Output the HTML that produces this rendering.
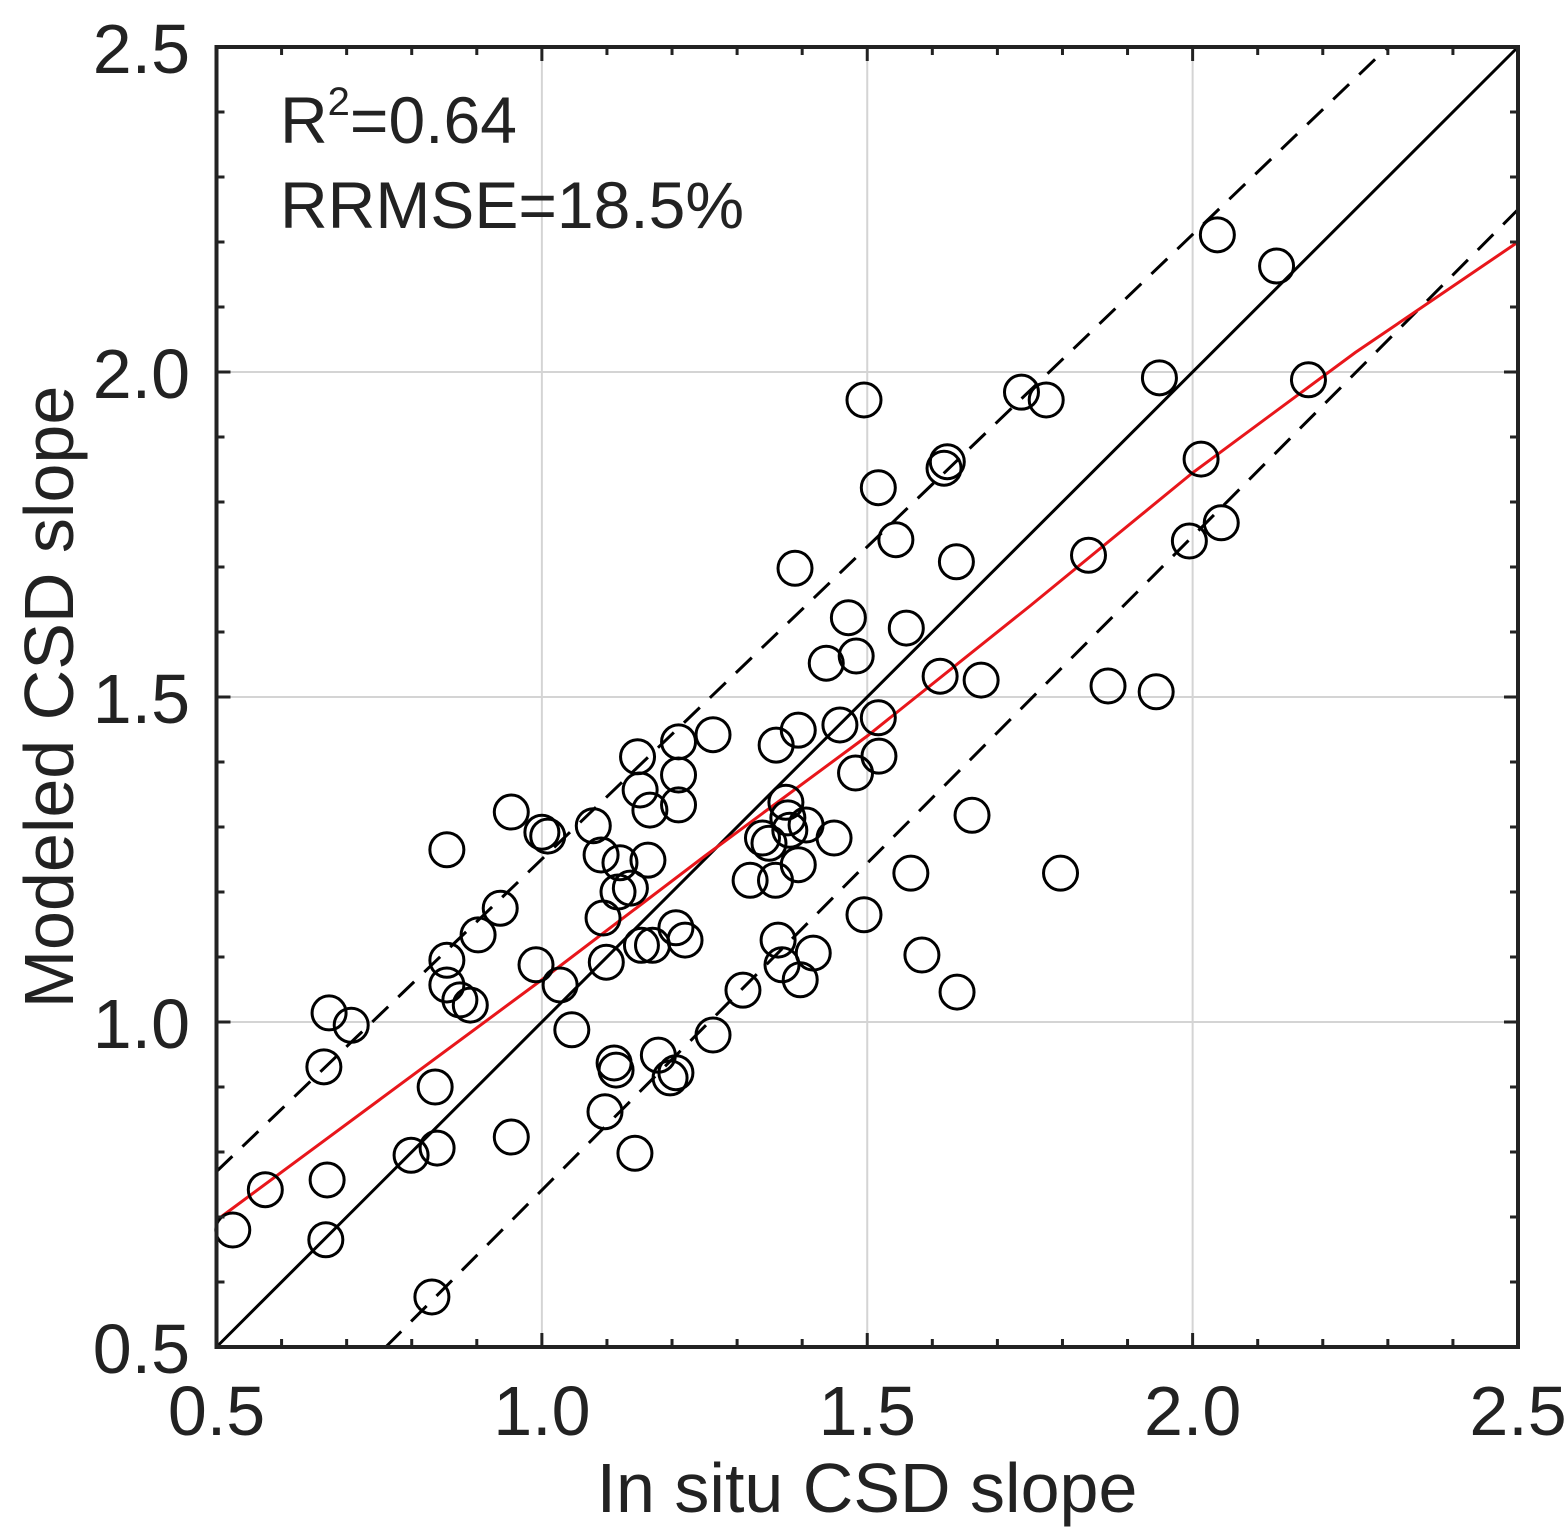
<!DOCTYPE html>
<html><head><meta charset="utf-8"><style>
html,body{margin:0;padding:0;background:#fff}
svg{display:block;font-family:"Liberation Sans",Arial,sans-serif}
text{fill:#222}
</style></head><body>
<svg id="chart" width="1565" height="1538" viewBox="0 0 1565 1538" xmlns="http://www.w3.org/2000/svg">
<g id="grid"></g>
<g id="lines"></g>
<g id="points"></g>
<g id="axes"></g>
<text x="280" y="143" font-size="66">R<tspan dy="-28" font-size="40">2</tspan><tspan dy="28">=0.64</tspan></text>
<text x="280" y="228" font-size="66">RRMSE=18.5%</text>
<text x="867" y="1512" font-size="70" text-anchor="middle">In situ CSD slope</text>
<text transform="translate(73,697) rotate(-90)" font-size="70" text-anchor="middle">Modeled CSD slope</text>
</svg>
<script>
const xTicks=[0.5,1.0,1.5,2.0,2.5];
const yTicks=[0.5,1.0,1.5,2.0,2.5];
const tickLabels=["0.5","1.0","1.5","2.0","2.5"];
const insitu=[0.525,0.575,0.668,0.670,0.665,0.673,0.707,0.799,0.839,0.836,0.831,0.854,0.854,0.854,0.874,0.890,0.902,0.936,0.953,0.953,0.991,1.000,1.009,1.028,1.046,1.079,1.091,1.094,1.099,1.097,1.111,1.114,1.117,1.120,1.136,1.143,1.147,1.151,1.153,1.163,1.166,1.170,1.179,1.197,1.206,1.210,1.210,1.206,1.220,1.210,1.263,1.263,1.309,1.320,1.339,1.349,1.359,1.360,1.363,1.369,1.375,1.378,1.381,1.389,1.394,1.394,1.397,1.406,1.417,1.437,1.449,1.458,1.471,1.483,1.482,1.495,1.495,1.517,1.517,1.518,1.544,1.560,1.567,1.584,1.612,1.618,1.623,1.637,1.638,1.675,1.661,1.737,1.775,1.797,1.840,1.870,1.944,1.949,1.995,2.013,2.044,2.038,2.129,2.178];
const modeled=[0.680,0.742,0.665,0.757,0.931,1.014,0.995,0.795,0.806,0.900,0.577,1.265,1.095,1.057,1.034,1.026,1.134,1.175,1.323,0.823,1.088,1.292,1.286,1.057,0.988,1.302,1.257,1.160,1.092,0.862,0.937,0.926,1.200,1.245,1.206,0.798,1.408,1.357,1.118,1.249,1.326,1.118,0.949,0.914,0.922,1.380,1.334,1.145,1.126,1.431,1.442,0.980,1.049,1.218,1.283,1.275,1.218,1.426,1.126,1.088,1.338,1.314,1.295,1.698,1.242,1.449,1.065,1.303,1.106,1.552,1.283,1.457,1.622,1.563,1.383,1.957,1.165,1.822,1.468,1.409,1.742,1.606,1.229,1.103,1.532,1.852,1.862,1.708,1.046,1.526,1.318,1.969,1.957,1.229,1.718,1.517,1.508,1.991,1.740,1.866,1.768,2.211,2.163,1.988];
const fitX=[0.5,0.75,1.0,1.25,1.5,1.75,2.0,2.25,2.5];
const fitY=[0.695,0.88,1.065,1.255,1.44,1.64,1.845,2.03,2.2];
const upperX=[0.5,2.3];
const upperY=[0.77,2.5];
const lowerX=[0.76,2.5];
const lowerY=[0.5,2.25];
const NS="http://www.w3.org/2000/svg";
const X0=216.5,X1=1518,Y0=1347,Y1=47;
function sx(v){return X0+(v-0.5)/2*(X1-X0);}
function sy(v){return Y0-(v-0.5)/2*(Y0-Y1);}
function mk(tag,attrs,parent){const e=document.createElementNS(NS,tag);for(const k in attrs)e.setAttribute(k,attrs[k]);parent.appendChild(e);return e;}
const grid=document.getElementById('grid'),lines=document.getElementById('lines'),pts=document.getElementById('points'),axes=document.getElementById('axes');
xTicks.forEach((t,i)=>{
  if(i>0&&i<xTicks.length-1){const g=mk('line',{x1:sx(t),x2:sx(t),y1:Y1,y2:Y0,stroke:'#d4d4d4','stroke-width':2},grid);
  
  }
  const l=mk('text',{x:sx(t),y:1435,'font-size':70,'text-anchor':'middle'},axes);l.textContent=tickLabels[i];
  
  
});
yTicks.forEach((t,i)=>{
  if(i>0&&i<yTicks.length-1){const g=mk('line',{x1:X0,x2:X1,y1:sy(t),y2:sy(t),stroke:'#d4d4d4','stroke-width':2},grid);
  
  }
  const l=mk('text',{x:190,y:sy(t)+26,'font-size':70,'text-anchor':'end'},axes);l.textContent=tickLabels[i];
  
  
});
for(let k=0;k<=20;k++){const v=0.5+k*0.1;const len=(k%5===0)?14:8;
  mk('line',{x1:sx(v),x2:sx(v),y1:Y0,y2:Y0-len,stroke:'#222','stroke-width':3},axes);
  mk('line',{x1:sx(v),x2:sx(v),y1:Y1,y2:Y1+len,stroke:'#222','stroke-width':3},axes);
  mk('line',{x1:X0,x2:X0+len,y1:sy(v),y2:sy(v),stroke:'#222','stroke-width':3},axes);
  mk('line',{x1:X1,x2:X1-len,y1:sy(v),y2:sy(v),stroke:'#222','stroke-width':3},axes);}
const frame=mk('rect',{x:X0,y:Y1,width:X1-X0,height:Y0-Y1,fill:'none',stroke:'#222','stroke-width':4},axes);


const one=mk('line',{x1:sx(0.5),y1:sy(0.5),x2:sx(2.5),y2:sy(2.5),stroke:'#000','stroke-width':3},lines);


const up=mk('line',{x1:sx(upperX[0]),y1:sy(upperY[0]),x2:sx(upperX[1]),y2:sy(upperY[1]),stroke:'#000','stroke-width':3,'stroke-dasharray':'22,14'},lines);


const lo=mk('line',{x1:sx(lowerX[0]),y1:sy(lowerY[0]),x2:sx(lowerX[1]),y2:sy(lowerY[1]),stroke:'#000','stroke-width':3,'stroke-dasharray':'22,14'},lines);


insitu.forEach((x,i)=>{const c=mk('circle',{cx:sx(x),cy:sy(modeled[i]),r:17,fill:'none',stroke:'#000','stroke-width':3},pts);
  
  });
const fit=mk('polyline',{points:fitX.map((x,i)=>sx(x)+','+sy(fitY[i])).join(' '),fill:'none',stroke:'#e8161b','stroke-width':3},lines);


</script>
</body></html>
